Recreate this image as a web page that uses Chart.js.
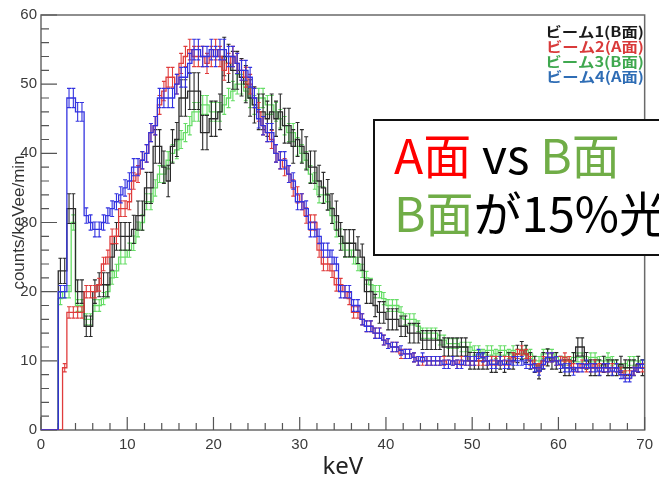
<!DOCTYPE html>
<html>
<head>
<meta charset="utf-8">
<script src="https://cdn.jsdelivr.net/npm/chart.js@4.4.0/dist/chart.umd.min.js"></script>
<style>
html, body { margin: 0; padding: 0; background: #fff; }
</style>
</head>
<body>
<canvas id="spec" width="659" height="479"></canvas>
<script>
// histogram: 0.5 keV bins from 0 to 70 keV, counts/keVee/min
const binWidth = 0.5;
const xMax = 70;

const beam1 = [0,0,0,0,23,23,32,32,20,20,
  15,15,20,21,21,21,25,28,28,28,
  28,29,31,31,35,35,41,41,38,36,
  41,42,48,48,49,49,49,43,43,45,
  45,46,54,53,52,52,51,50,48,47,
  46,46,45,46,45,46,44,44,41,42,
  41,40,38,38,36,35,34,32,31,28,
  27,27,27,26,25,20,20,18,17,17,
  16,16,16,15,15,14,14,14,13,13,
  13,13,13,12,12,12,12,12,12,10,
  10,10,10,10,9.5,9.5,10,9.5,10,10,
  11,11.5,11,10,9.5,8.5,10,10.5,10,10,
  9.5,9,9,10,12,12,10,9,9,9,
  9.5,9,9,9,9.5,9,9,9,9.5,9];

const beam2 = [0,0,0,0,0,9,17,17,17,17,
  20,20,20,21,24,25,28,28,32,32,
  33,36,37,39,40,43,44,47,49,51,
  51,50,53,54,55,54,54,54,53,54,
  55,54,52,53,54,53,52,51,50,48,
  46,44,43,42,40,39,38,37,35,34,
  33,31,30,30,26,24,24,23,21,21,
  20,19,17,17,16,15,15,14,14,13,
  12.5,12,12,11,11,11,10.5,10,10,10,
  10,10,10,10,9.5,10,9.5,10,10,10,
  10,10,10,10,10,10,10,10,10,10.5,
  11,11.5,11,10,9.5,9,10,10.5,10.5,10,
  10,10.5,10,9,9,9.5,9,9,9.5,9,
  9,9,9,9,8.5,8,8,8.5,9,9];

const beam3 = [0,0,0,0,19,20,20,30,18,18,
  16,16,18,18,19,20,22,23,25,25,
  26,27,29,30,33,33,35,37,37,39,
  40,40.5,42,43,44,46,46,47,47,46,
  46,46,47,48,49,50,50,49,48,47,
  48,48,47,47,46,45,44,43,43,41,
  40,39,37,36,34,34,33,31,29,28,
  26,26,25,24,23,22,21,20,20,19,
  18,18,18,17,16,16,16,15,14,14,
  14,14,13,13,12.5,12.5,12.5,12,12,12,
  11.5,11.5,11,11.5,11.5,11,11.5,11.5,11,11.5,
  11,11,11.5,11,10,10,11,11,11,10.5,
  10,10,10,10.5,10.5,10.5,10,10.5,10.5,10,
  10,10.5,10,9.5,9,9,10,10,10,9.5];

const beam4 = [0,0,0,0,20,20,48,48,46,46,
  31,30,29,29,30,31,32,33,34,35,
  36,38,38,39,40,43,44,48,48,48,
  48,50,51,51,53,55,55,54,54,55,
  54,55,55,54,54,53,52,52,51,48,
  45,44,43,43,40,39,39,37,36,33,
  33,32,29,29,28,26,26,25,24,20,
  20,20,18,18,16,15,15,14,14,13,
  12.5,12,12,11.5,11,11,10.5,10,10.5,10,
  10,10,10,9.5,9.5,10,9.5,9.5,10,10,
  10,11,10.5,10,9.5,9.5,10,9.5,9.5,10,
  10,10,9.5,9.5,9,8.5,9.5,10.5,10.5,10,
  9.5,9,9,8.5,9,9,9.5,9,9,8.5,
  9,9,8.5,9,8,7.5,7.5,8.5,9,9.5];

const series = [beam1, beam2, beam3, beam4];
const legendLabels = ['ビーム1(B面)', 'ビーム2(A面)', 'ビーム3(B面)', 'ビーム4(A面)'];
const legendColors = ['#1a1a1a', '#d93a3a', '#3fa84f', '#2f6db5'];
const lineColors = ['#2a2a2a', '#e03c3c', '#66dd66', '#3333e0'];
const errScale = [0.38, 0.2, 0.2, 0.2];
const drawOrder = [2, 1, 3, 0];

const noteLines = [
  [['A面', '#ff0000'], [' vs ', '#000000'], ['B面', '#70ad47']],
  [['B面', '#70ad47'], ['が15%光', '#000000']]
];

const frame = {
  id: 'frame',
  beforeDatasetsDraw(chart) {
    const { ctx, chartArea: a, scales: { x, y } } = chart;
    ctx.save();
    ctx.strokeStyle = '#6a6a6a';
    ctx.lineWidth = 1.5;
    ctx.strokeRect(a.left, a.top, a.right - a.left, a.bottom - a.top);
    ctx.strokeStyle = '#555';
    ctx.lineWidth = 1.2;
    ctx.beginPath();
    for (let v = 0; v <= 70; v += 2) {
      const px = x.getPixelForValue(v);
      const len = v % 10 === 0 ? 13 : 7;
      ctx.moveTo(px, a.bottom);
      ctx.lineTo(px, a.bottom - len);
    }
    for (let v = 0; v <= 60; v += 2) {
      const py = y.getPixelForValue(v);
      const len = v % 10 === 0 ? 16 : 8;
      ctx.moveTo(a.left, py);
      ctx.lineTo(a.left + len, py);
    }
    ctx.stroke();
    ctx.restore();
  }
};

const errorBars = {
  id: 'errorBars',
  afterDatasetDraw(chart, args) {
    const vals = series[args.index];
    const k = errScale[args.index];
    const { ctx, chartArea: a, scales: { x, y } } = chart;
    ctx.save();
    ctx.beginPath();
    ctx.rect(a.left, a.top, a.right - a.left, a.bottom - a.top);
    ctx.clip();
    ctx.strokeStyle = lineColors[args.index];
    ctx.lineWidth = 1.1;
    ctx.beginPath();
    vals.forEach((v, i) => {
      if (v <= 0) return;
      const e = k * Math.sqrt(v);
      const px = x.getPixelForValue((i + 0.5) * binWidth);
      const top = y.getPixelForValue(v + e);
      const bot = y.getPixelForValue(v - e);
      ctx.moveTo(px, top); ctx.lineTo(px, bot);
      ctx.moveTo(px - 2, top); ctx.lineTo(px + 2, top);
      ctx.moveTo(px - 2, bot); ctx.lineTo(px + 2, bot);
    });
    ctx.stroke();
    ctx.restore();
  }
};

const overlay = {
  id: 'overlay',
  afterDraw(chart) {
    const ctx = chart.ctx;
    ctx.save();
    // legend, slightly widened glyphs like the original
    ctx.font = 'bold 14px "Noto Sans CJK JP"';
    ctx.textAlign = 'right';
    ctx.textBaseline = 'middle';
    legendLabels.forEach((t, i) => {
      ctx.save();
      ctx.translate(644, 32 + i * 15);
      ctx.scale(1.17, 1);
      ctx.fillStyle = legendColors[i];
      ctx.fillText(t, 0, 0);
      ctx.restore();
    });
    // note box
    ctx.fillStyle = '#fff';
    ctx.fillRect(374, 120, 300, 135);
    ctx.strokeStyle = '#111';
    ctx.lineWidth = 2;
    ctx.strokeRect(374, 120, 300, 135);
    ctx.font = '48px "Noto Sans CJK JP"';
    ctx.textAlign = 'left';
    ctx.textBaseline = 'alphabetic';
    const baselines = [174, 232];
    noteLines.forEach((parts, li) => {
      let px = 394;
      parts.forEach(([txt, col]) => {
        ctx.fillStyle = col;
        ctx.fillText(txt, px, baselines[li]);
        px += ctx.measureText(txt).width;
      });
    });
    ctx.restore();
  }
};

new Chart(document.getElementById('spec'), {
  type: 'line',
  data: {
    datasets: series.map((vals, s) => ({
      label: legendLabels[s],
      data: vals.map((v, i) => ({ x: i * binWidth, y: v })).concat([{ x: xMax, y: vals[vals.length - 1] }]),
      borderColor: lineColors[s],
      borderWidth: 1.3,
      pointRadius: 0,
      stepped: 'before',
      fill: false,
      order: drawOrder[s]
    }))
  },
  options: {
    responsive: false,
    animation: false,
    devicePixelRatio: 1,
    layout: { padding: { left: 0, right: 11, top: 15, bottom: 0 } },
    plugins: { legend: { display: false }, tooltip: { enabled: false } },
    scales: {
      x: {
        type: 'linear', min: 0, max: xMax,
        afterFit(s) { s.height = 49; },
        grid: { display: false, drawTicks: false },
        border: { display: false },
        ticks: { stepSize: 10, padding: 6, maxRotation: 0, color: '#3a3a3a',
          font: { family: 'Liberation Sans', size: 15 } },
        title: { display: true, text: 'keV', color: '#222', padding: 0,
          font: { family: 'Noto Sans', size: 24, lineHeight: 1 } }
      },
      y: {
        type: 'linear', min: 0, max: 60,
        afterFit(s) { s.width = 41; },
        grid: { display: false, drawTicks: false },
        border: { display: false },
        ticks: { stepSize: 10, padding: 4, color: '#3a3a3a',
          font: { family: 'Liberation Sans', size: 15 } },
        title: { display: true, text: 'counts/keVee/min', color: '#333', padding: { top: 9, bottom: 0 },
          font: { family: 'Liberation Sans', size: 17 } }
      }
    }
  },
  plugins: [frame, errorBars, overlay]
});
</script>
</body>
</html>
